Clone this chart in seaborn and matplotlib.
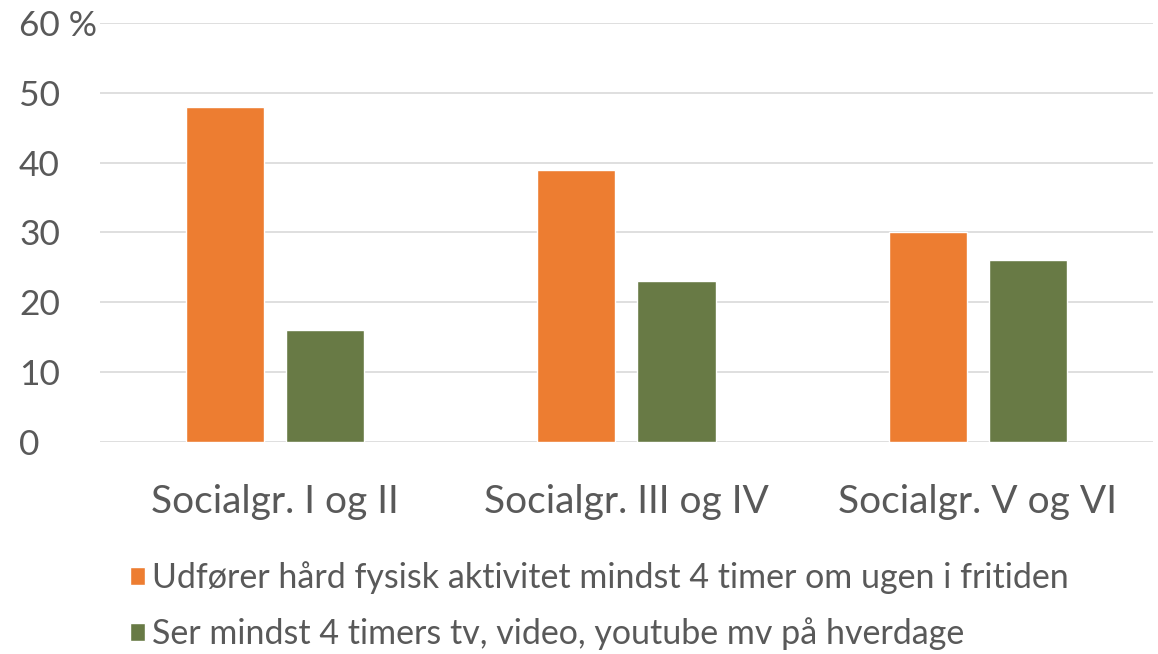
import seaborn as sns
import matplotlib.pyplot as plt
import pandas as pd

# data
groups = ["Socialgr. I og II", "Socialgr. III og IV", "Socialgr. V og VI"]
series = ["Udfører hård fysisk aktivitet mindst 4 timer om ugen i fritiden",
          "Ser mindst 4 timers tv, video, youtube mv på hverdage"]
activity = [48, 39, 30]
screen = [16, 23, 26]
yticks = [0, 10, 20, 30, 40, 50, 60]
ytick_labels = ["0", "10", "20", "30", "40", "50", "60 %"]

df = pd.DataFrame({
    "group": groups * 2,
    "serie": [series[0]] * 3 + [series[1]] * 3,
    "value": activity + screen,
})

sns.set_style("white")
plt.rcParams["font.family"] = ["Lato", "DejaVu Sans"]
grey = "#595959"

fig = plt.figure(figsize=(11.58, 6.54), dpi=100)
ax = fig.add_axes([0.086, 0.324, 0.91, 0.641])

sns.barplot(data=df, x="group", y="value", hue="serie", order=groups,
            hue_order=series, palette=["#ED7D31", "#687A45"],
            width=0.57, gap=0.22, ax=ax, saturation=1)

ax.set_ylim(0, 60)
ax.set_yticks(yticks)
ax.set_yticklabels(ytick_labels)
ax.yaxis.grid(True, color="#d9d9d9", linewidth=1.2)
ax.set_axisbelow(True)
for s in ax.spines.values():
    s.set_visible(False)
ax.set_xlabel("")
ax.set_ylabel("")
ax.tick_params(axis="y", length=0, pad=58, labelsize=25.5, labelcolor=grey)
for t in ax.get_yticklabels():
    t.set_horizontalalignment("left")
ax.tick_params(axis="x", length=0, pad=30, labelsize=28, labelcolor=grey)

handles, labels = ax.get_legend_handles_labels()
ax.legend_.remove()
fig.legend(handles, labels, loc="upper left", bbox_to_anchor=(0.112, 0.142),
           frameon=False, fontsize=24.5, labelcolor=grey, handlelength=0.45,
           handleheight=0.45, handletextpad=0.2, labelspacing=0.68,
           borderpad=0, borderaxespad=0)

fig.savefig("out.png", dpi=100)
